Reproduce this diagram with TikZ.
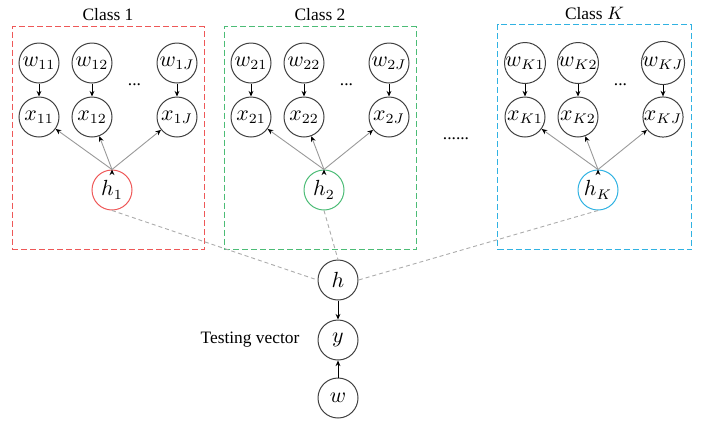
\documentclass[tikz,border=0pt]{standalone}
\usepackage{fontspec}
\setmainfont{Liberation Serif}
\usetikzlibrary{fit}
\usetikzlibrary{positioning}
\usetikzlibrary{arrows.meta}
\usetikzlibrary{backgrounds}

\definecolor{classred}{RGB}{238,88,88}
\definecolor{classgreen}{RGB}{76,188,118}
\definecolor{classblue}{RGB}{48,178,226}
\definecolor{nodegray}{RGB}{64,64,64}

\begin{document}
\begin{tikzpicture}[
            x = 0.5pt, y = -0.5pt, % one unit per pixel
            > = {Stealth[length=2.8pt, width=2.4pt, black]}, % arrow head style
            on grid, % distances between centres
            line width = 0.45pt
        ]

        \tikzset{
            var/.style = {
                circle,
                draw = nodegray,
                line width = 0.5pt,
                inner sep = 0pt,
                minimum size = 20pt,
                font = \fontsize{10.5}{12.5}\selectfont
            },
            classtitle/.style = {font = \fontsize{8.7}{10.5}\selectfont},
            classbox/.style = {
                draw = #1,
                dash pattern = on 3pt off 1.5pt,
                line width = 0.5pt,
                inner xsep = 3.25pt,
                inner ysep = 13.75pt,
                yshift = -5.75pt
            },
            feed/.style = {->, draw = gray!80},
            link/.style = {draw = gray!65, dash pattern = on 2pt off 1.5pt}
        }

        \useasboundingbox (0,0) rectangle (711,424);

	% CLASS 1
        \node[var] (W11) at (39,63) {$w_{11}$};
        \node[var] (W12) [right=26.5pt of W11] {$w_{12}$};
        \node[var] (W1J) [right=42.5pt of W12] {$w_{1J}$};
        \node[var] (X11) [below=27pt of W11] {$x_{11}$};
        \node[var] (X12) [below=27pt of W12] {$x_{12}$};
        \node[var] (X1J) [below=27pt of W1J] {$x_{1J}$};
        \node[classtitle] (D1) [below right=11pt and 21.25pt of W12] {...};
        \node[var, draw=classred] (H1) [below right=36.5pt and 10pt of X12] {$h_1$};

	% CLASS 2
        \node[var] (W21) at (251,63) {$w_{21}$};
        \node[var] (W22) [right=26.5pt of W21] {$w_{22}$};
        \node[var] (W2J) [right=42.5pt of W22] {$w_{2J}$};
        \node[var] (X21) [below=27pt of W21] {$x_{21}$};
        \node[var] (X22) [below=27pt of W22] {$x_{22}$};
        \node[var] (X2J) [below=27pt of W2J] {$x_{2J}$};
        \node[classtitle] (D2) [below right=11pt and 21.25pt of W22] {...};
        \node[var, draw=classgreen] (H2) [below right=36.5pt and 10pt of X22] {$h_2$};

	% CLASS K
        \node[var] (WK1) at (525,63) {$w_{K1}$};
        \node[var] (WK2) [right=26.5pt of WK1] {$w_{K2}$};
        \node[var] (WKJ) [right=42.5pt of WK2] {$w_{KJ}$};
        \node[var] (XK1) [below=27pt of WK1] {$x_{K1}$};
        \node[var] (XK2) [below=27pt of WK2] {$x_{K2}$};
        \node[var] (XKJ) [below=27pt of WKJ] {$x_{KJ}$};
        \node[classtitle] (DK) [below right=11pt and 21.25pt of WK2] {...};
        \node[var, draw=classblue] (HK) [below right=36.5pt and 10pt of XK2] {$h_K$};

        \node[classtitle] (DC) at (456,139) {......};

	% TESTING VECTOR
        \node[var] (H) at (338,280) {$h$};
        \node[var] (Y) [below=30pt of H] {$y$};
        \node[var] (W) [below=29pt of Y] {$w$};
        \node[classtitle] (T) [left=44pt of Y] {Testing vector};

        \path[->] (W11) edge (X11) (W12) edge (X12) (W1J) edge (X1J);
        \path[->] (W21) edge (X21) (W22) edge (X22) (W2J) edge (X2J);
        \path[->] (WK1) edge (XK1) (WK2) edge (XK2) (WKJ) edge (XKJ);

        \path[feed] (H1.north) edge (X11) (H1.north) edge (X12) (H1.north) edge (X1J);
        \path[feed] (H2.north) edge (X21) (H2.north) edge (X22) (H2.north) edge (X2J);
        \path[feed] (HK.north) edge (XK1) (HK.north) edge (XK2) (HK.north) edge (XKJ);

        \draw[link] (H1.south) -- (H.west);
        \draw[link] (H2.south) -- (H.north);
        \draw[link] (HK.south) -- (H.east);

        \draw[->] (H) -- (Y);
        \draw[->] (W) -- (Y);

       	\begin{scope}[on background layer]
	\node[classbox=classred, fit=(W11) (W1J) (H1), label={[classtitle, label distance=-1pt]above:Class 1}] (C1) {};
	\node[classbox=classgreen, fit=(W21) (W2J) (H2), label={[classtitle, label distance=-1pt]above:Class 2}] (C2) {};
	\node[classbox=classblue, fit=(WK1) (WKJ) (HK), label={[classtitle, label distance=-1pt]above:Class $K$}] (CK) {};
	  \end{scope}

  \end{tikzpicture}
\end{document}
